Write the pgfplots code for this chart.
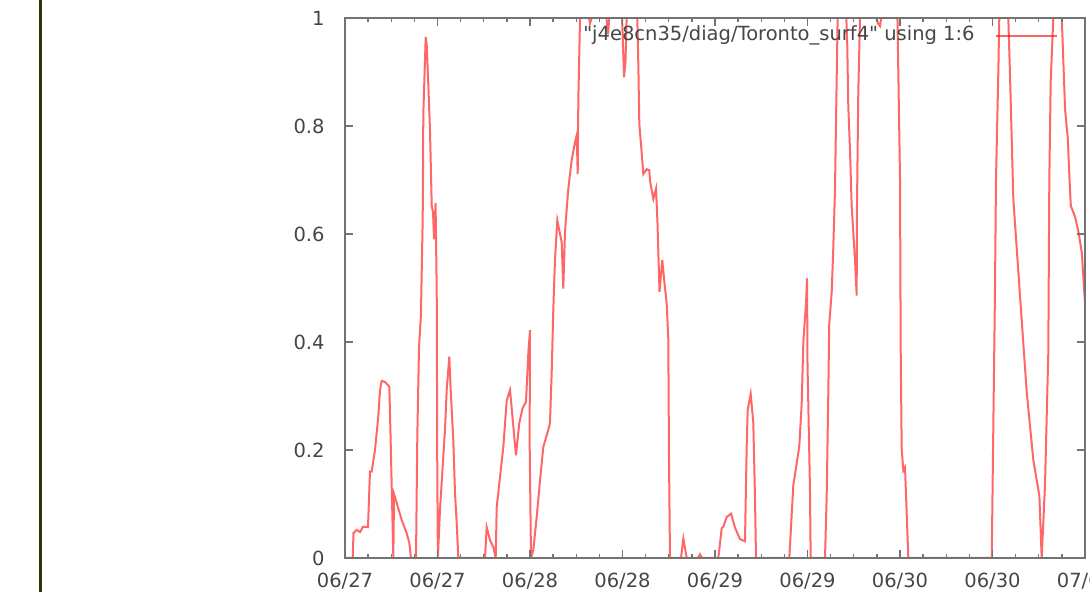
\documentclass[border=0pt]{standalone}
\usepackage{fontspec}
\setmainfont{DejaVu Sans}[Ligatures=TeXOff]
\usepackage{pgfplots}
\pgfplotsset{compat=1.18}
\definecolor{framegray}{RGB}{115,115,115}
\definecolor{txtgray}{RGB}{70,70,70}
\definecolor{sideline}{RGB}{50,48,10}
\begin{document}
\begin{tikzpicture}
\useasboundingbox (0,0) rectangle (545pt,296pt);
\clip (0,0) rectangle (545pt,296pt);
\draw[sideline, line width=1.5pt] (20pt,-5pt) -- (20pt,300pt);
\begin{axis}[
  at={(172.5pt,17pt)}, anchor=south west,
  scale only axis, width=370pt, height=270pt,
  xmin=0, xmax=96, ymin=0, ymax=1,
  axis on top,
  axis line style={framegray, line width=0.9pt},
  every tick/.style={framegray, line width=0.7pt},
  major tick length=4pt, minor tick length=2.2pt,
  xtick={0,12,...,96},
  xticklabels={06/27,06/27,06/28,06/28,06/29,06/29,06/30,06/30,07/01},
  minor xtick={3,6,9,15,18,21,27,30,33,39,42,45,51,54,57,63,66,69,75,78,81,87,90,93},
  ytick={0,0.2,0.4,0.6,0.8,1},
  yticklabels={0,0.2,0.4,0.6,0.8,1},
  tick label style={font=\fontsize{9.75pt}{11pt}\selectfont, text=txtgray, inner sep=0pt},
  yticklabel style={anchor=east, xshift=-10pt},
  xticklabel style={anchor=north, yshift=-7.5pt},
  legend style={draw=none, fill=none, at={(rel axis cs:1,1)}, anchor=north east,
    xshift=-13.5pt, yshift=-3.5pt, inner sep=0pt, font=\fontsize{9.75pt}{11pt}\selectfont,
    text=txtgray, nodes={inner sep=0pt}, column sep=10pt},
  legend plot pos=right,
  legend image code/.code={\draw[#1] (0pt,-0.8pt) -- (30.5pt,-0.8pt);},
]
\addplot[red, line width=1pt, draw opacity=0.6] table {
x y
0 0
1.00 0
1.10 0.046
1.50 0.052
1.95 0.048
2.34 0.058
2.98 0.057
3.24 0.16
3.46 0.16
3.89 0.20
4.32 0.262
4.54 0.311
4.76 0.328
5.19 0.326
5.75 0.317
5.93 0.213
6.27 0
6.36 0.118
6.71 0.102
7.36 0.070
8.00 0.046
8.34 0.028
8.56 0
9.21 0
9.38 0.225
9.60 0.39
9.85 0.45
10.08 0.63
10.16 0.823
10.47 0.965
10.60 0.95
10.81 0.876
11.03 0.79
11.25 0.652
11.42 0.64
11.55 0.59
11.75 0.657
11.90 0.49
11.97 0.163
12.05 0
12.32 0.089
12.97 0.237
13.19 0.311
13.53 0.373
13.71 0.311
14.05 0.218
14.27 0.12
14.49 0.065
14.70 0
18.16 0
18.38 0.057
18.81 0.033
19.24 0.02
19.55 0
19.68 0.094
20.11 0.15
20.54 0.206
20.98 0.292
21.41 0.311
21.76 0.256
22.18 0.19
22.61 0.25
23.05 0.278
23.48 0.289
23.78 0.379
24.00 0.422
23.95 0.218
24.13 0
24.43 0.015
24.87 0.076
25.30 0.144
25.73 0.206
26.37 0.237
26.59 0.25
26.81 0.342
27.02 0.459
27.24 0.552
27.54 0.625
28.11 0.585
28.32 0.499
28.54 0.605
28.97 0.684
29.41 0.737
29.84 0.77
30.06 0.783
30.19 0.711
30.27 0.85
30.49 1.0
31.13 1.05
31.78 0.99
32.43 1.02
33.08 1.06
33.73 1.03
34.12 0.97
34.51 1.04
35.42 1.08
35.94 1.0
36.20 0.89
36.39 0.92
36.59 1.03
37.24 1.08
37.92 1.0
38.05 0.916
38.18 0.804
38.49 0.75
38.70 0.711
39.14 0.72
39.48 0.718
39.57 0.698
40.00 0.665
40.35 0.684
40.54 0.62
40.80 0.493
41.16 0.552
41.42 0.513
41.73 0.472
41.94 0.406
42.03 0.189
42.16 0
43.59 0
43.89 0.036
44.33 0
45.80 0
46.06 0.007
46.32 0
48.43 0
48.87 0.055
49.08 0.058
49.52 0.076
50.08 0.082
50.60 0.056
51.24 0.035
51.89 0.031
52.11 0.206
52.24 0.274
52.63 0.304
52.97 0.25
53.19 0.11
53.32 0
57.64 0
58.16 0.135
58.60 0.175
58.94 0.208
59.25 0.287
59.46 0.40
59.81 0.472
59.94 0.518
60.00 0.36
60.32 0.128
60.41 0
62.27 0
62.49 0.115
62.70 0.307
62.82 0.433
63.14 0.492
63.34 0.572
63.56 0.678
63.78 0.883
63.91 1.0
64.22 1.05
64.99 1.02
65.16 0.949
65.29 0.837
65.51 0.757
65.73 0.652
66.16 0.552
66.38 0.486
66.42 0.652
66.59 0.863
66.81 1.0
67.46 1.05
68.37 1.03
69.14 0.99
69.40 0.985
69.79 1.02
70.70 1.06
71.67 1.0
71.78 0.902
72.00 0.704
72.09 0.387
72.22 0.202
72.43 0.162
72.65 0.168
72.87 0.082
73.08 0
83.90 0
84.10 0.235
84.32 0.492
84.45 0.698
84.75 0.896
84.88 1.0
85.49 1.06
86.05 1.0
86.27 0.896
86.70 0.665
87.57 0.485
88.44 0.307
89.30 0.181
90.08 0.115
90.38 0
90.81 0.135
91.24 0.38
91.37 0.698
91.55 0.883
91.89 1.0
92.51 1.05
92.99 1.0
93.20 0.916
93.42 0.83
93.64 0.796
93.77 0.777
93.98 0.704
94.16 0.652
94.71 0.632
95.14 0.605
95.59 0.565
96.00 0.472
};
\addlegendentry{"j4e8cn35/diag/Toronto\_surf4" using 1:6}
\end{axis}
\end{tikzpicture}
\end{document}
